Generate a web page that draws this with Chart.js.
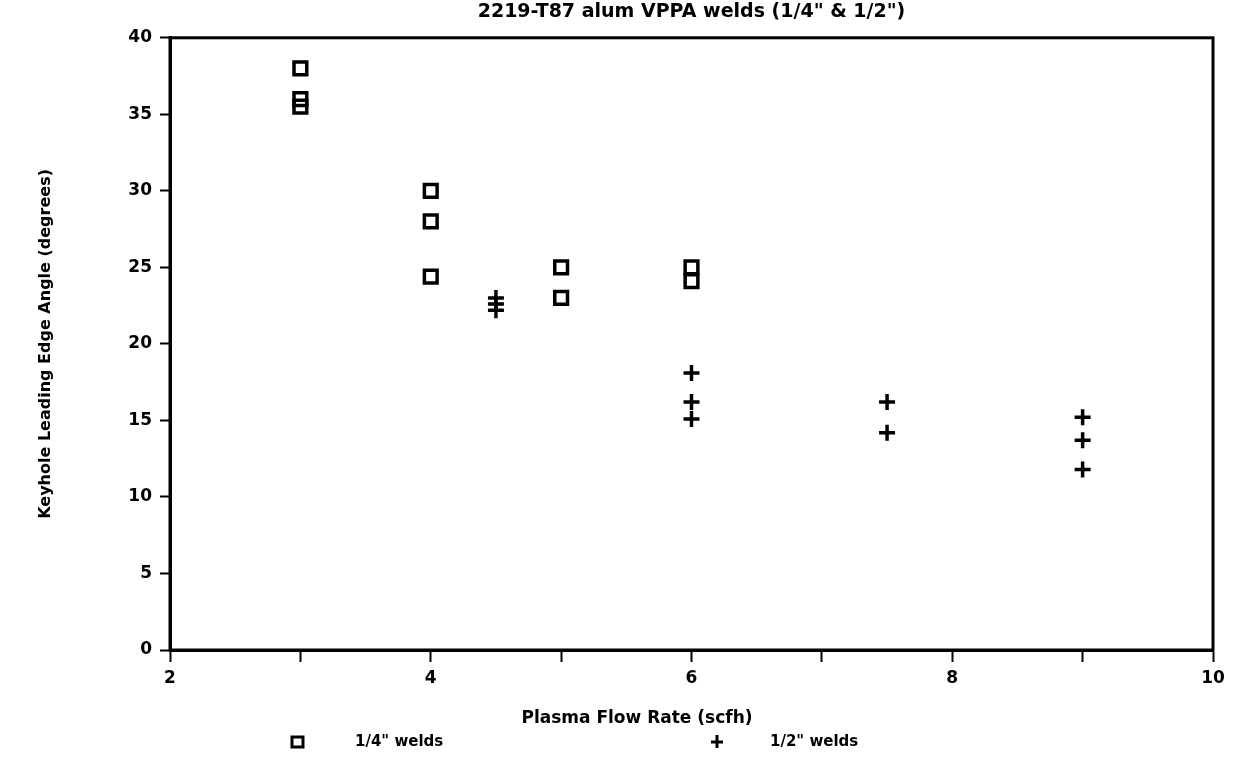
<!DOCTYPE html>
<html>
<head>
<meta charset="utf-8">
<title>2219-T87 alum VPPA welds</title>
<script src="https://cdn.jsdelivr.net/npm/chart.js@4"></script>
<style>
  html, body { margin: 0; padding: 0; background: #fff; }
  #wrap { width: 1241px; height: 759px; }
</style>
</head>
<body>
<div id="wrap"><canvas id="keyhole" width="1241" height="759"></canvas></div>
<script>
// values
const quarterFlow  = [3, 3, 3, 4, 4, 4, 5, 5, 6, 6];
const quarterAngle = [38, 36, 35.5, 30, 28, 24.4, 25, 23, 25, 24.1];
const halfFlow     = [4.5, 4.5, 4.5, 6, 6, 6, 7.5, 7.5, 9, 9, 9];
const halfAngle    = [23, 22.6, 22.2, 18.1, 16.2, 15.1, 16.2, 14.2, 15.2, 13.7, 11.8];

const xTicks = [2, 4, 6, 8, 10];
const yTicks = [0, 5, 10, 15, 20, 25, 30, 35, 40];

const chartTitle = '2219-T87 alum VPPA welds (1/4" & 1/2")';
const xTitle = 'Plasma Flow Rate (scfh)';
const yTitle = 'Keyhole Leading Edge Angle (degrees)';
const legendLabels = ['1/4" welds', '1/2" welds'];

const FONT = '"DejaVu Sans", sans-serif';

function pts(xs, ys) {
    return xs.map(function(x, i) { return { x: x, y: ys[i] }; });
}

// box round the plot area (top + right edges included)
const frame = {
    id: 'frame',
    afterDatasetsDraw(chart) {
        const a = chart.chartArea, ctx = chart.ctx;
        ctx.save();
        ctx.strokeStyle = '#000';
        ctx.lineWidth = 3;
        ctx.strokeRect(a.left, a.top, a.right - a.left, a.bottom - a.top);
        ctx.restore();
    }
};

// x title sits left of the plot centre in the original, legend row below it
const footer = {
    id: 'footer',
    afterDraw(chart) {
        const ctx = chart.ctx, a = chart.chartArea;
        ctx.save();
        ctx.fillStyle = '#000';
        ctx.strokeStyle = '#000';
        ctx.textBaseline = 'middle';
        ctx.textAlign = 'center';
        ctx.font = 'bold 17px ' + FONT;
        ctx.fillText(xTitle, a.left + 467, a.bottom + 69);

        const y = a.bottom + 92;
        const items = [
            { mx: 297, tx: 355, style: 'rect' },
            { mx: 717, tx: 770, style: 'cross' }
        ];
        ctx.textAlign = 'left';
        ctx.font = 'bold 15px ' + FONT;
        items.forEach(function(it, i) {
            ctx.beginPath();
            ctx.lineWidth = 3;
            if (it.style === 'rect') {
                ctx.rect(it.mx - 5, y - 5, 11, 10);
            } else {
                ctx.moveTo(it.mx - 6, y); ctx.lineTo(it.mx + 6, y);
                ctx.moveTo(it.mx, y - 7); ctx.lineTo(it.mx, y + 6);
            }
            ctx.stroke();
            ctx.fillText(legendLabels[i], it.tx, y);
        });
        ctx.restore();
    }
};

new Chart(document.getElementById('keyhole'), {
    type: 'scatter',
    data: {
        datasets: [
            { label: legendLabels[0], data: pts(quarterFlow, quarterAngle), pointStyle: 'rect', radius: 9, borderWidth: 3.5, borderColor: '#000', backgroundColor: 'rgba(0,0,0,0)' },
            { label: legendLabels[1], data: pts(halfFlow, halfAngle), pointStyle: 'cross', radius: 8, borderWidth: 3.5, borderColor: '#000', backgroundColor: '#000' }
        ]
    },
    options: {
        responsive: false,
        animation: false,
        devicePixelRatio: 1,
        layout: { padding: { top: 0, left: 20, right: 28, bottom: 29 } },
        plugins: {
            legend: { display: false },
            tooltip: { enabled: false },
            title: { display: true, fullSize: false, text: chartTitle, color: '#000', font: { family: FONT, size: 19, weight: 'bold' }, padding: { top: 1, bottom: 14 } }
        },
        scales: {
            x: {
                type: 'linear', min: 2, max: 10,
                ticks: {
                    stepSize: 1, color: '#000', padding: 6,
                    font: { family: FONT, size: 17, weight: 'bold' },
                    callback: function(v) { return xTicks.indexOf(v) >= 0 ? String(v) : ''; }
                },
                grid: { drawOnChartArea: false, color: '#000', tickLength: 12, tickWidth: 2 },
                border: { color: '#000', width: 3 },
                afterFit: function(s) { s.height = 80; }
            },
            y: {
                type: 'linear', min: 0, max: 40,
                afterBuildTicks: function(s) { s.ticks = yTicks.map(function(v) { return { value: v }; }); },
                ticks: { color: '#000', padding: 8, font: { family: FONT, size: 17, weight: 'bold' } },
                grid: { drawOnChartArea: false, color: '#000', tickLength: 10, tickWidth: 2 },
                border: { color: '#000', width: 3 },
                title: { display: true, text: yTitle, color: '#000', font: { family: FONT, size: 16, weight: 'bold' }, padding: { top: 16, bottom: 0 } },
                afterFit: function(s) { s.width = 150; }
            }
        }
    },
    plugins: [frame, footer]
});
</script>
</body>
</html>
